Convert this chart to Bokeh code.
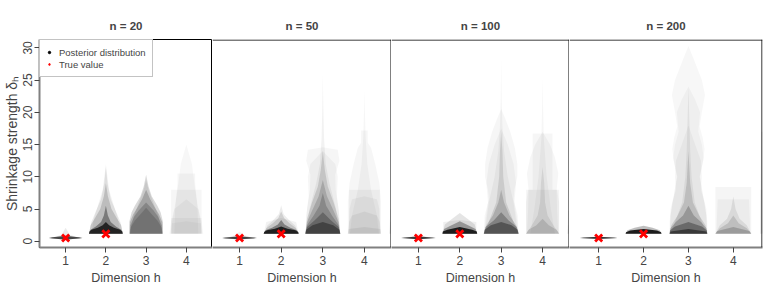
from bokeh.plotting import figure
from bokeh.layouts import row
from bokeh.models import Legend, LegendItem, FixedTicker, Range1d, Span
from bokeh.embed import file_html
from bokeh.resources import INLINE

FONT = "Liberation Sans"

panel_titles = ["n = 20", "n = 50", "n = 100", "n = 200"]
dimensions = [1, 2, 3, 4]
true_dims = [1, 2]
true_values = [0.5, 1.14]
y_ticks = [0, 5, 10, 15, 20, 25, 30]

# Posterior violins: per panel, per dimension, layers of (alpha, y levels, half widths)
violins_n20 = {
    1: [(0.6, [0.28, 0.42, 0.52, 0.62, 0.8], [0, 0.34, 0.42, 0.34, 0]),
        (0.25, [0.22, 0.52, 0.9], [0, 0.4, 0]),
        (0.08, [0.15, 0.52, 1.0, 2.1], [0, 0.36, 0.1, 0])],
    2: [(0.7, [1.15, 1.5, 1.8, 2.1, 2.5, 3.0], [0.42, 0.41, 0.36, 0.2, 0.08, 0]),
        (0.35, [1.15, 1.8, 2.3, 3.0, 4.0, 5.5], [0.42, 0.38, 0.25, 0.12, 0.05, 0]),
        (0.15, [1.15, 2.5, 3.5, 5.0, 7.0, 9.0], [0.42, 0.38, 0.28, 0.14, 0.05, 0]),
        (0.08, [1.15, 3.0, 4.5, 6.5, 9.0, 11.5], [0.42, 0.36, 0.26, 0.12, 0.04, 0]),
        (0.05, [1.15, 3.5, 5.5, 8.0, 12.0], [0.36, 0.3, 0.2, 0.08, 0])],
    3: [(0.15, [1.15, 3.0, 4.5, 5.5, 7.0, 8.5, 10.3], [0.42, 0.42, 0.36, 0.28, 0.14, 0.06, 0]),
        (0.18, [1.15, 3.0, 4.2, 5.2, 6.5, 8.0], [0.41, 0.4, 0.32, 0.22, 0.1, 0]),
        (0.18, [1.15, 2.5, 3.8, 4.8, 6.0], [0.4, 0.39, 0.3, 0.18, 0]),
        (0.15, [1.15, 2.2, 3.2, 4.2, 5.2], [0.4, 0.38, 0.28, 0.14, 0]),
        (0.08, [1.15, 4.0, 6.0, 8.0, 9.5], [0.42, 0.3, 0.18, 0.06, 0])],
    4: [(0.035, [1.15, 8.0, 8.0], [0.38, 0.38, 0]),
        (0.035, [1.15, 5.0, 9.0, 10.5, 10.5], [0.3, 0.28, 0.22, 0.22, 0]),
        (0.03, [1.15, 5.0, 8.0, 12.0, 15.0], [0.4, 0.3, 0.22, 0.14, 0]),
        (0.04, [1.15, 3.6, 3.6], [0.38, 0.38, 0]),
        (0.035, [1.15, 3.0, 5.0, 6.5], [0.42, 0.38, 0.3, 0]),
        (0.03, [1.15, 2.8, 3.1], [0.36, 0.36, 0])],
}
violins_n50 = {
    1: [(0.65, [0.3, 0.44, 0.52, 0.6, 0.75], [0, 0.34, 0.42, 0.34, 0]),
        (0.2, [0.25, 0.52, 0.85], [0, 0.4, 0]),
        (0.06, [0.2, 0.52, 1.0, 1.5], [0, 0.3, 0.1, 0])],
    2: [(0.75, [1.15, 1.45, 1.7, 1.95, 2.3], [0.42, 0.41, 0.34, 0.15, 0]),
        (0.35, [1.15, 1.7, 2.1, 2.6, 3.3], [0.42, 0.38, 0.22, 0.08, 0]),
        (0.12, [1.15, 2.0, 2.8, 3.6, 4.6], [0.42, 0.36, 0.2, 0.07, 0]),
        (0.07, [1.15, 2.4, 3.2, 4.2, 5.6], [0.4, 0.34, 0.2, 0.06, 0]),
        (0.05, [1.15, 3.0, 3.6], [0.42, 0.36, 0])],
    3: [(0.035, [1.15, 5.0, 8.0, 10.3, 12.5, 14.2, 14.6], [0.42, 0.38, 0.31, 0.3, 0.4, 0.36, 0]),
        (0.035, [1.15, 4.0, 7.0, 10.0, 12.0, 14.0], [0.4, 0.4, 0.34, 0.36, 0.3, 0]),
        (0.05, [1.15, 5.0, 9.0, 12.0, 16.0, 21.0, 26.0], [0.4, 0.32, 0.16, 0.07, 0.03, 0.012, 0]),
        (0.12, [1.15, 3.5, 6.0, 8.5, 11.0, 14.0], [0.42, 0.38, 0.26, 0.12, 0.05, 0]),
        (0.15, [1.15, 3.0, 5.0, 7.0, 9.5], [0.42, 0.38, 0.24, 0.1, 0]),
        (0.18, [1.15, 2.5, 4.0, 5.5, 7.5], [0.42, 0.38, 0.22, 0.08, 0]),
        (0.25, [1.15, 2.2, 3.2, 4.5], [0.42, 0.38, 0.2, 0]),
        (0.35, [1.15, 1.8, 2.5, 3.0], [0.42, 0.4, 0.25, 0])],
    4: [(0.035, [1.15, 6.0, 9.0, 12.0, 14.5, 15.3, 17.2, 17.2], [0.4, 0.4, 0.36, 0.26, 0.16, 0.08, 0.08, 0]),
        (0.035, [1.15, 4.0, 8.0, 12.0, 16.0, 20.0, 23.5], [0.35, 0.3, 0.16, 0.07, 0.03, 0.012, 0]),
        (0.04, [1.15, 8.0, 8.0], [0.37, 0.37, 0]),
        (0.04, [1.15, 5.0, 6.5, 7.0], [0.38, 0.36, 0.3, 0]),
        (0.05, [1.15, 3.0, 4.0, 4.6], [0.4, 0.37, 0.3, 0]),
        (0.06, [1.15, 1.9, 2.2], [0.4, 0.38, 0])],
    5: [(0.05, [1.15, 5.0, 7.0], [0.4, 0.38, 0]),
        (0.05, [1.15, 3.0, 4.0], [0.4, 0.38, 0])],
}
violins_n100 = {
    1: [(0.7, [0.32, 0.45, 0.52, 0.59, 0.72], [0, 0.34, 0.42, 0.34, 0]),
        (0.15, [0.27, 0.52, 0.8], [0, 0.4, 0]),
        (0.05, [0.25, 0.52, 0.9, 1.2], [0, 0.3, 0.1, 0])],
    2: [(0.8, [1.15, 1.5, 1.8, 2.2], [0.42, 0.41, 0.3, 0]),
        (0.3, [1.15, 1.9, 2.5, 3.1], [0.42, 0.38, 0.2, 0]),
        (0.1, [1.15, 2.6, 3.4, 4.4], [0.42, 0.36, 0.2, 0]),
        (0.06, [1.15, 3.0, 3.3], [0.4, 0.4, 0])],
    3: [(0.035, [1.15, 4.0, 6.5, 8.0, 10.0, 12.0, 14.5, 17.0, 19.0, 20.5], [0.42, 0.4, 0.3, 0.32, 0.39, 0.39, 0.33, 0.22, 0.1, 0]),
        (0.035, [1.15, 3.5, 6.0, 9.0, 12.0, 15.0, 17.5], [0.42, 0.38, 0.32, 0.36, 0.3, 0.16, 0]),
        (0.04, [1.15, 6.0, 10.0, 14.0, 18.0, 22.0, 28.6], [0.4, 0.3, 0.16, 0.07, 0.03, 0.012, 0]),
        (0.1, [1.15, 3.0, 6.0, 10.0, 14.0, 17.0], [0.42, 0.3, 0.12, 0.05, 0.03, 0]),
        (0.15, [1.15, 2.5, 4.0, 6.0, 8.0], [0.42, 0.36, 0.2, 0.07, 0]),
        (0.25, [1.15, 2.2, 3.2, 4.5], [0.42, 0.38, 0.18, 0]),
        (0.35, [1.15, 1.8, 2.5, 3.0], [0.42, 0.4, 0.25, 0])],
    4: [(0.035, [1.15, 6.0, 8.0, 8.0, 16.7, 16.7], [0.4, 0.4, 0.35, 0.24, 0.24, 0]),
        (0.035, [1.15, 5.0, 8.0, 10.5, 13.0, 15.0, 17.0], [0.38, 0.35, 0.34, 0.38, 0.3, 0.18, 0]),
        (0.035, [1.15, 5.0, 10.0, 16.0, 21.0, 25.5], [0.3, 0.2, 0.1, 0.03, 0.012, 0]),
        (0.08, [1.15, 2.5, 4.0, 6.0, 9.0, 11.5], [0.4, 0.26, 0.12, 0.06, 0.04, 0]),
        (0.12, [1.15, 1.8, 2.5, 3.5], [0.4, 0.34, 0.15, 0]),
        (0.04, [1.15, 4.0, 8.0, 8.0], [0.4, 0.4, 0.4, 0])],
    5: [(0.05, [1.15, 4.7, 4.7], [0.4, 0.38, 0]),
        (0.05, [1.15, 2.5, 3.0], [0.4, 0.38, 0])],
}
violins_n200 = {
    1: [(0.75, [0.34, 0.46, 0.52, 0.58, 0.7], [0, 0.34, 0.42, 0.34, 0]),
        (0.1, [0.3, 0.52, 0.75], [0, 0.4, 0])],
    2: [(0.85, [1.15, 1.4, 1.65, 1.9], [0.4, 0.39, 0.3, 0]),
        (0.25, [1.15, 1.7, 2.1, 2.4], [0.4, 0.36, 0.2, 0])],
    3: [(0.03, [1.15, 3.0, 5.0, 7.0, 10.0, 12.5, 14.3, 16.0, 17.8, 20.0, 22.7, 25.0, 28.6, 30.3],
         [0.42, 0.42, 0.4, 0.33, 0.25, 0.33, 0.36, 0.32, 0.25, 0.3, 0.37, 0.3, 0.1, 0]),
        (0.03, [1.15, 4.0, 6.5, 10.0, 13.0, 15.0, 17.0, 20.0, 22.0, 24.0], [0.42, 0.4, 0.34, 0.26, 0.34, 0.3, 0.22, 0.26, 0.15, 0]),
        (0.035, [1.15, 4.0, 6.0, 8.0, 10.0, 12.5, 15.0, 18.0], [0.42, 0.4, 0.36, 0.28, 0.3, 0.28, 0.15, 0]),
        (0.06, [1.15, 3.0, 6.0, 10.0, 14.0, 19.0, 24.0], [0.4, 0.3, 0.14, 0.07, 0.04, 0.02, 0]),
        (0.12, [1.15, 2.5, 4.0, 6.0, 9.0, 14.0], [0.42, 0.38, 0.24, 0.1, 0.04, 0]),
        (0.2, [1.15, 2.0, 3.0, 4.0, 5.5], [0.42, 0.4, 0.28, 0.12, 0]),
        (0.3, [1.15, 1.7, 2.3, 3.0], [0.42, 0.41, 0.3, 0]),
        (0.45, [1.15, 1.5, 1.9], [0.42, 0.4, 0])],
    4: [(0.04, [1.15, 8.4, 8.4], [0.4, 0.4, 0]),
        (0.035, [1.15, 6.5, 6.5], [0.38, 0.35, 0]),
        (0.08, [1.15, 2.5, 3.5, 5.0, 7.0], [0.4, 0.3, 0.14, 0.05, 0]),
        (0.12, [1.15, 2.0, 2.8, 4.0], [0.4, 0.3, 0.12, 0]),
        (0.18, [1.15, 1.6, 2.2], [0.4, 0.36, 0])],
    5: [(0.05, [1.15, 17.0, 17.0], [0.4, 0.38, 0]),
        (0.05, [1.15, 8.0, 8.0], [0.4, 0.4, 0])],
}
panel_violins = [violins_n20, violins_n50, violins_n100, violins_n200]

frame_widths = [173, 179, 178, 193]
FRAME_H = 208
Y_MIN, Y_MAX = -0.97, 31.3
X_MIN, X_MAX = 0.35, 4.65


def make_panel(idx):
    first = idx == 0
    last = idx == 3
    p = figure(
        title=panel_titles[idx],
        frame_width=frame_widths[idx], frame_height=FRAME_H,
        x_range=Range1d(X_MIN, X_MAX), y_range=Range1d(Y_MIN, Y_MAX),
        output_backend="svg", toolbar_location=None,
        y_axis_location="left" if first else None,
        min_border_top=39, min_border_bottom=0,
        min_border_left=33 if first else 0, min_border_right=2 if last else 0,
    )
    p.background_fill_color = "white"
    p.border_fill_color = "white"
    p.grid.visible = False
    if first:
        p.outline_line_color = "black"
        p.outline_line_width = 1
    else:
        p.outline_line_color = None
        # frame top and right edges (placed half a pixel inside the frame)
        p.add_layout(Span(location=Y_MAX - 0.08, dimension="width", line_color="black", line_width=1))
        p.add_layout(Span(location=X_MAX - 0.012, dimension="height", line_color="black", line_width=1))

    p.title.align = "center"
    p.title.text_font = FONT
    p.title.text_font_size = "11.5px"
    p.title.text_font_style = "bold"
    p.title.standoff = 15

    xs, ys, alphas = [], [], []
    for dim, layers in panel_violins[idx].items():
        for a, yy, hw in layers:
            xs.append([dim - w for w in hw] + [dim + w for w in hw[::-1]])
            ys.append(list(yy) + list(yy[::-1]))
            alphas.append(a)
    p.patches(xs=xs, ys=ys, fill_color="black", fill_alpha=alphas, line_color=None)

    p.scatter(x=true_dims, y=true_values, marker="x", size=10, line_width=2.8, color="#ff0000")

    ax = p.xaxis[0]
    ax.ticker = FixedTicker(ticks=dimensions)
    ax.axis_label = "Dimension h"
    ax.axis_label_text_font = FONT
    ax.axis_label_text_font_size = "12.5px"
    ax.axis_label_text_font_style = "normal"
    ax.axis_label_standoff = 3
    ax.major_label_text_font = FONT
    ax.major_label_text_font_size = "12px"
    ax.major_label_standoff = 3
    ax.axis_line_color = "#808080"
    ax.axis_line_width = 2
    ax.major_tick_line_color = "#444444"
    ax.major_tick_in = 0
    ax.major_tick_out = 5
    ax.minor_tick_line_color = None

    if first:
        yax = p.yaxis[0]
        yax.ticker = FixedTicker(ticks=y_ticks)
        yax.axis_label = "Shrinkage strength δₕ"
        yax.axis_label_text_font = FONT
        yax.axis_label_text_font_size = "14px"
        yax.axis_label_text_font_style = "normal"
        yax.axis_label_standoff = 1
        yax.major_label_orientation = "vertical"
        yax.major_label_text_font = FONT
        yax.major_label_text_font_size = "12px"
        yax.major_label_standoff = 2
        yax.axis_line_color = "#808080"
        yax.axis_line_width = 2
        yax.major_tick_line_color = "#444444"
        yax.major_tick_in = 0
        yax.major_tick_out = 5
        yax.minor_tick_line_color = None

        r1 = p.scatter(x=[-100], y=[-100], marker="circle", size=5, color="black")
        r2 = p.scatter(x=[-100], y=[-100], marker="x", size=7, line_width=1.4,
                       line_color="#ff0000", fill_color="#ff0000")
        legend = Legend(
            items=[LegendItem(label="Posterior distribution", renderers=[r1]),
                   LegendItem(label="True value", renderers=[r2])],
            location="top_left", margin=0, padding=6, spacing=0,
            glyph_width=6, glyph_height=12, label_height=12, label_standoff=7,
            label_text_font=FONT, label_text_font_size="9.5px",
            border_line_color="#888888", border_line_width=1,
            background_fill_color="white", background_fill_alpha=1,
        )
        p.add_layout(legend)
    return p


figs = [make_panel(i) for i in range(4)]
layout = row(*figs, spacing=0)

open("out.html", "w").write(file_html(layout, INLINE))
